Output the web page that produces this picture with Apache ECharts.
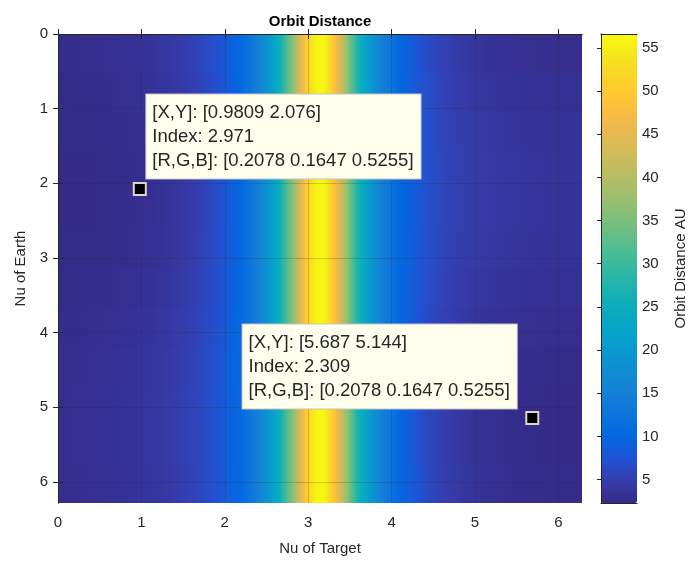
<!doctype html>
<html>
<head>
<meta charset="utf-8">
<title>Orbit Distance</title>
<script src="https://cdn.jsdelivr.net/npm/echarts@6/dist/echarts.min.js"></script>
<style>
    html, body {margin: 0; padding: 0; background: #fff;}
    #chart {width: 691px; height: 564px;}
</style>
</head>
<body>
<div id="chart"></div>
<script>
    // y cell edges (Nu of Earth)
    var rowEdges = [0, 0.5236, 1.0472, 1.5708, 2.0944, 2.618, 3.1416, 3.6652, 4.1888, 4.7124, 5.236, 5.7596, 6.2832];

    // left side, x from 0 to 2.2, one array per column (top to bottom)
    var leftEdges = [0, 0.2, 0.4, 0.6, 0.8, 1.0, 1.2, 1.4, 1.6, 1.8, 2.0, 2.2];
    var leftValues = [
        [2.68, 2.53, 2.39, 2.31, 2.31, 2.39, 2.52, 2.68, 2.81, 2.89, 2.89, 2.81],
        [2.74, 2.56, 2.41, 2.32, 2.31, 2.40, 2.56, 2.74, 2.90, 2.99, 2.99, 2.90],
        [2.86, 2.66, 2.48, 2.37, 2.37, 2.47, 2.65, 2.86, 3.04, 3.14, 3.14, 3.04],
        [3.04, 2.81, 2.61, 2.49, 2.49, 2.60, 2.81, 3.03, 3.24, 3.35, 3.36, 3.24],
        [3.30, 3.04, 2.82, 2.69, 2.68, 2.81, 3.04, 3.29, 3.52, 3.65, 3.65, 3.52],
        [3.64, 3.38, 3.16, 3.03, 3.02, 3.15, 3.38, 3.63, 3.86, 3.99, 3.99, 3.86],
        [4.12, 3.86, 3.64, 3.51, 3.50, 3.63, 3.86, 4.11, 4.34, 4.47, 4.47, 4.34],
        [4.79, 4.53, 4.31, 4.18, 4.17, 4.30, 4.53, 4.78, 5.01, 5.14, 5.14, 5.01],
        [5.75, 5.50, 5.27, 5.14, 5.14, 5.27, 5.49, 5.75, 5.97, 6.10, 6.11, 5.98],
        [7.14, 6.93, 6.75, 6.65, 6.65, 6.75, 6.93, 7.13, 7.31, 7.42, 7.42, 7.32],
        [9.27, 9.12, 8.98, 8.90, 8.90, 8.98, 9.11, 9.27, 9.40, 9.48, 9.48, 9.41]
    ];

    // central band, x from 2.2 to 4.1, same value over the full height
    var coreEdges = [2.2, 2.25, 2.3, 2.35, 2.4, 2.45, 2.5, 2.55, 2.6, 2.65, 2.7, 2.75, 2.8, 2.85, 2.9, 2.95,
        3.0, 3.05, 3.1, 3.15, 3.2, 3.25, 3.3, 3.35, 3.4, 3.45, 3.5, 3.55, 3.6, 3.65, 3.7, 3.75, 3.8, 3.85,
        3.9, 3.95, 4.0, 4.05, 4.1];
    var coreValues = [11.15, 12.11, 13.21, 14.46, 15.88, 17.51, 19.38, 21.52, 23.96, 26.74, 29.88, 33.38,
        37.21, 41.26, 45.38, 49.30, 52.65, 55.10, 56.28, 56.04, 54.40, 51.61, 48.02, 44.00, 39.88, 35.89,
        32.16, 28.78, 25.77, 23.10, 20.77, 18.72, 16.94, 15.39, 14.02, 12.83, 11.78, 10.86];

    // right side, x from 4.1 to 2*pi
    var rightEdges = [4.1, 4.3, 4.5, 4.7, 4.9, 5.1, 5.3, 5.5, 5.7, 5.9, 6.1, 6.2832];
    var rightValues = [
        [8.88, 9.04, 9.17, 9.25, 9.25, 9.17, 9.04, 8.89, 8.75, 8.67, 8.67, 8.75],
        [6.76, 7.02, 7.24, 7.37, 7.38, 7.25, 7.02, 6.77, 6.54, 6.41, 6.41, 6.54],
        [5.40, 5.66, 5.88, 6.01, 6.02, 5.89, 5.66, 5.41, 5.18, 5.05, 5.05, 5.18],
        [4.51, 4.77, 4.99, 5.12, 5.13, 5.00, 4.77, 4.52, 4.29, 4.16, 4.16, 4.29],
        [3.88, 4.19, 4.46, 4.62, 4.62, 4.47, 4.20, 3.89, 3.62, 3.46, 3.46, 3.61],
        [3.45, 3.81, 4.12, 4.30, 4.31, 4.13, 3.81, 3.46, 3.14, 2.96, 2.95, 3.13],
        [3.16, 3.52, 3.83, 4.01, 4.02, 3.84, 3.52, 3.17, 2.85, 2.67, 2.66, 2.84],
        [2.98, 3.34, 3.65, 3.83, 3.84, 3.66, 3.34, 2.99, 2.67, 2.49, 2.48, 2.66],
        [2.86, 3.22, 3.53, 3.71, 3.72, 3.54, 3.22, 2.87, 2.55, 2.37, 2.36, 2.54],
        [2.81, 3.17, 3.48, 3.66, 3.67, 3.49, 3.17, 2.82, 2.50, 2.32, 2.31, 2.49],
        [2.82, 3.18, 3.49, 3.67, 3.68, 3.50, 3.18, 2.83, 2.51, 2.33, 2.32, 2.50]
    ];

    var axisTicks = [0, 1, 2, 3, 4, 5, 6];
    var colorbarTicks = [5, 10, 15, 20, 25, 30, 35, 40, 45, 50, 55];
    var colorMin = 2.3, colorMax = 56.6;

    // data tips
    var tipX = [0.9809, 5.687];
    var tipY = [2.076, 5.144];
    var tipIndex = [2.971, 2.309];
    var tipRGB = [[0.2078, 0.1647, 0.5255], [0.2078, 0.1647, 0.5255]];

    // parula
    var parula = ['#352a87', '#353dad', '#2053d4', '#0268e1', '#0d75dc', '#1481d6', '#108ed2', '#079ccf',
        '#06a7c6', '#0faeb9', '#25b5a9', '#42bb98', '#65be86', '#87bf77', '#a5be6b', '#c0bc60',
        '#d9ba56', '#f1b94a', '#ffc337', '#fad32a', '#f5e41d', '#f9fb0e'];

    var font = "'Liberation Sans', Arial, Helvetica, sans-serif";
    var ink = '#262626';
    var gridColor = 'rgba(38,38,38,0.2)';
    var yTop = rowEdges[0], yBottom = rowEdges[rowEdges.length - 1];
    var rowCount = rowEdges.length - 1;

    // all columns left to right, each with one value per row
    var columns = [];
    leftValues.forEach(function (col, i) {
        columns.push({x0: leftEdges[i], x1: leftEdges[i + 1], values: col});
    });
    coreValues.forEach(function (v, i) {
        var col = [];
        for (var j = 0; j < rowCount; j++) col.push(v);
        columns.push({x0: coreEdges[i], x1: coreEdges[i + 1], values: col});
    });
    rightValues.forEach(function (col, i) {
        columns.push({x0: rightEdges[i], x1: rightEdges[i + 1], values: col});
    });

    // [x0, x1, y0, y1, value, left neighbour, right neighbour]
    var cells = [];
    columns.forEach(function (c, i) {
        var prev = columns[i - 1] || c, next = columns[i + 1] || c;
        for (var j = 0; j < rowCount; j++) {
            cells.push([c.x0, c.x1, rowEdges[j], rowEdges[j + 1], c.values[j], prev.values[j], next.values[j]]);
        }
    });

    function colorOf(v) {
        var t = (v - colorMin) / (colorMax - colorMin);
        return echarts.color.lerp(Math.max(0, Math.min(1, t)), parula);
    }

    // shaded like MATLAB 'interp': blend towards the neighbouring columns
    function renderCell(params, api) {
        var a = api.coord([api.value(0), api.value(2)]);
        var b = api.coord([api.value(1), api.value(3)]);
        var x0 = Math.round(Math.min(a[0], b[0])), x1 = Math.round(Math.max(a[0], b[0]));
        var y0 = Math.round(Math.min(a[1], b[1])), y1 = Math.round(Math.max(a[1], b[1]));
        var v = api.value(4);
        return {
            type: 'rect',
            shape: {x: x0, y: y0, width: x1 - x0, height: y1 - y0},
            style: {
                fill: {
                    type: 'linear', x: 0, y: 0, x2: 1, y2: 0,
                    colorStops: [
                        {offset: 0, color: colorOf((v + api.value(5)) / 2)},
                        {offset: 0.5, color: colorOf(v)},
                        {offset: 1, color: colorOf((v + api.value(6)) / 2)}
                    ]
                }
            }
        };
    }

    var tipData = tipX.map(function (x, i) {
        var label = i === 0
            ? {position: [13.5, -3.5], align: 'left', verticalAlign: 'bottom'}
            : {position: [-8.5, -2.5], align: 'right', verticalAlign: 'bottom'};
        return {value: [x, tipY[i]], label: label};
    });

    function tipText(params) {
        var i = params.dataIndex;
        return '{t|[X,Y]: [' + tipX[i] + ' ' + tipY[i] + ']}\n' +
            '{t|Index: ' + tipIndex[i] + '}\n' +
            '{t|[R,G,B]: [' + tipRGB[i].join(' ') + ']}';
    }

    function frameAxis(gridIndex, position, min, max) {
        return {
            type: 'value', gridIndex: gridIndex, position: position, min: min, max: max,
            axisLine: {show: true, lineStyle: {color: ink, width: 1}},
            axisTick: {show: false}, axisLabel: {show: false}, splitLine: {show: false}, z: 10
        };
    }

    var myChart = echarts.init(document.getElementById('chart'), null, {renderer: 'canvas'});

    var option = {
        animation: false,
        backgroundColor: '#fff',
        textStyle: {fontFamily: font},
        grid: [
            {left: 58, top: 34, width: 524, height: 469},
            {left: 601, top: 34, width: 36, height: 469}
        ],
        visualMap: {
            type: 'continuous',
            seriesIndex: 0,
            dimension: 4,
            min: colorMin,
            max: colorMax,
            calculable: false,
            hoverLink: false,
            left: 601,
            top: 34,
            padding: 0,
            itemWidth: 36,
            itemHeight: 469,
            inRange: {color: parula},
            outOfRange: {color: parula[0]}
        },
        xAxis: [
            {
                type: 'value', gridIndex: 0, position: 'bottom', min: 0, max: yBottom, interval: 1,
                name: 'Nu of Target', nameLocation: 'middle', nameGap: 38,
                nameTextStyle: {fontSize: 15, color: ink, fontFamily: font},
                axisLine: {show: true, lineStyle: {color: ink, width: 1}},
                axisTick: {show: true, inside: true, length: 5, customValues: axisTicks, lineStyle: {color: ink}},
                axisLabel: {customValues: axisTicks, margin: 12, fontSize: 15, color: ink, fontFamily: font},
                splitLine: {show: true, lineStyle: {color: gridColor, width: 1}},
                z: 10
            },
            {
                type: 'value', gridIndex: 0, position: 'top', min: 0, max: yBottom, interval: 1,
                name: 'Orbit Distance', nameLocation: 'middle', nameGap: 5,
                nameTextStyle: {fontSize: 15, fontWeight: 'bold', color: '#000', fontFamily: font},
                axisLine: {show: true, lineStyle: {color: ink, width: 1}},
                axisTick: {show: true, inside: true, length: 5, customValues: axisTicks, lineStyle: {color: ink}},
                axisLabel: {show: false},
                splitLine: {show: false},
                z: 10
            },
            frameAxis(1, 'bottom', 0, 1),
            frameAxis(1, 'top', 0, 1)
        ],
        yAxis: [
            {
                type: 'value', gridIndex: 0, position: 'left', min: 0, max: yBottom, interval: 1, inverse: true,
                name: 'Nu of Earth', nameLocation: 'middle', nameGap: 27, nameRotate: 90,
                nameTextStyle: {fontSize: 15, color: ink, fontFamily: font},
                axisLine: {show: true, lineStyle: {color: ink, width: 1}},
                axisTick: {show: true, inside: true, length: 5, customValues: axisTicks, lineStyle: {color: ink}},
                axisLabel: {customValues: axisTicks, margin: 10, fontSize: 15, color: ink, fontFamily: font},
                splitLine: {show: true, lineStyle: {color: gridColor, width: 1}},
                z: 10
            },
            {
                type: 'value', gridIndex: 0, position: 'right', min: 0, max: yBottom, interval: 1, inverse: true,
                axisLine: {show: true, lineStyle: {color: ink, width: 1}},
                axisTick: {show: true, inside: true, length: 5, customValues: axisTicks, lineStyle: {color: ink}},
                axisLabel: {show: false},
                splitLine: {show: false},
                z: 10
            },
            {
                type: 'value', gridIndex: 1, position: 'right', min: colorMin, max: colorMax,
                name: 'Orbit Distance AU', nameLocation: 'middle', nameGap: 36, nameRotate: 90,
                nameTextStyle: {fontSize: 15, color: ink, fontFamily: font},
                axisLine: {show: true, lineStyle: {color: ink, width: 1}},
                axisTick: {show: true, inside: true, length: 4, customValues: colorbarTicks, lineStyle: {color: ink}},
                axisLabel: {customValues: colorbarTicks, margin: 5, fontSize: 15, color: ink, fontFamily: font},
                splitLine: {show: false},
                z: 10
            },
            frameAxis(1, 'left', colorMin, colorMax)
        ],
        series: [
            {
                type: 'custom',
                xAxisIndex: 0,
                yAxisIndex: 0,
                renderItem: renderCell,
                encode: {x: [0, 1], y: [2, 3]},
                clip: true,
                silent: true,
                data: cells
            },
            {
                type: 'scatter',
                xAxisIndex: 0,
                yAxisIndex: 0,
                z: 20,
                symbol: 'rect',
                symbolSize: 12,
                itemStyle: {color: '#000', borderColor: '#dcd7c3', borderWidth: 2, opacity: 1},
                label: {
                    show: true,
                    formatter: tipText,
                    backgroundColor: '#ffffee',
                    borderColor: '#c4c4c4',
                    borderWidth: 1,
                    padding: [6, 7, 6, 6],
                    rich: {
                        t: {fontSize: 18.5, lineHeight: 24, color: ink, fontFamily: font, align: 'left'}
                    }
                },
                data: tipData
            }
        ]
    };

    myChart.setOption(option);
    window.addEventListener('resize', function () {
        myChart.resize();
    });
</script>
</body>
</html>
